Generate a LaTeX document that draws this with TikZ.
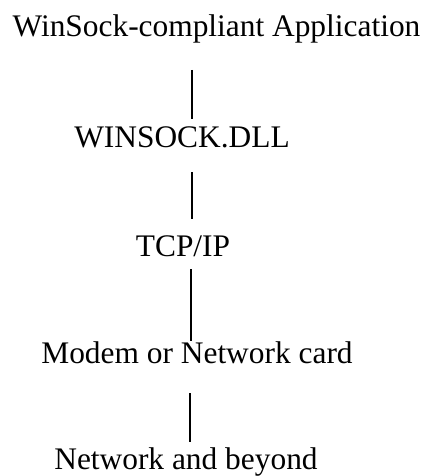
\documentclass[tikz,border=0pt]{standalone}
\usepackage{fontspec}
\setmainfont{Liberation Serif}
\begin{document}
\begin{tikzpicture}[x=1pt,y=-1pt,
  layer/.style={anchor=base, inner sep=0pt, font=\fontsize{31.4}{36}\selectfont},
  link/.style={line width=1.4pt}]
\useasboundingbox (0,0) rectangle (429,476);

% protocol stack, top to bottom
\node[layer] (app)   at (216.5,36.5) {WinSock-compliant Application};
\node[layer] (dll)   at (182,147)    {WINSOCK.DLL};
\node[layer] (tcp)   at (183,256)    {TCP/IP};
\node[layer] (modem) at (197,363.5)  {Modem or Network card};
\node[layer] (net)   at (186,469)    {Network and beyond};

% vertical links between layers
\coordinate (a1) at (192,70);  \coordinate (b1) at (192,119);
\coordinate (a2) at (192,172); \coordinate (b2) at (192,219);
\coordinate (a3) at (191,269); \coordinate (b3) at (191,341);
\coordinate (a4) at (190,393); \coordinate (b4) at (190,442);
\draw[link] (a1) -- (b1);
\draw[link] (a2) -- (b2);
\draw[link] (a3) -- (b3);
\draw[link] (a4) -- (b4);
\end{tikzpicture}
\end{document}
